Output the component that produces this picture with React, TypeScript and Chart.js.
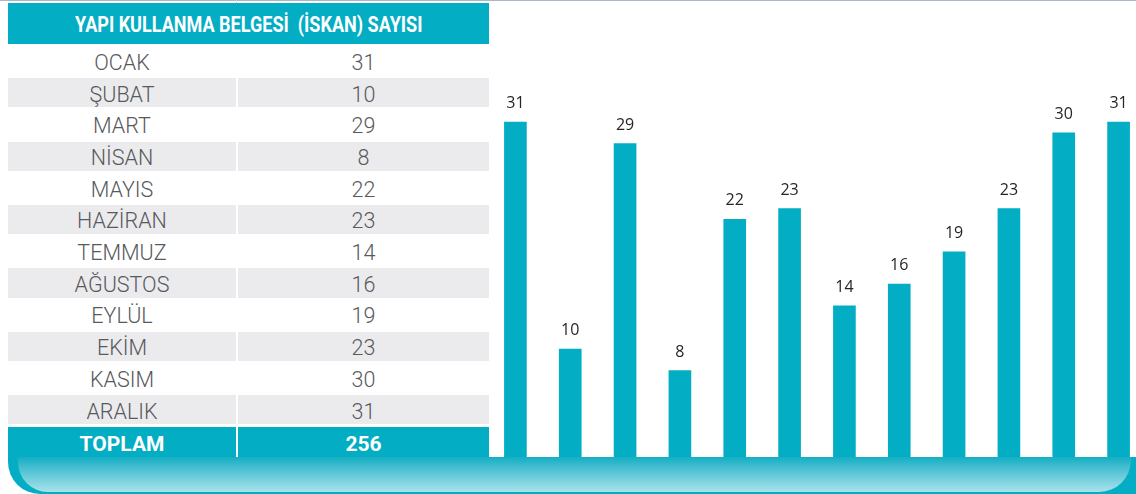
import React, { useEffect, useRef } from "react";
import { Chart, registerables } from "chart.js";

Chart.register(...registerables);

const months = ["OCAK", "ŞUBAT", "MART", "NİSAN", "MAYIS", "HAZİRAN", "TEMMUZ", "AĞUSTOS", "EYLÜL", "EKİM", "KASIM", "ARALIK"];
const counts = [31, 10, 29, 8, 22, 23, 14, 16, 19, 23, 30, 31];
const titleText = "YAPI KULLANMA BELGESİ  (İSKAN) SAYISI";
const totalLabel = "TOPLAM";
const totalValue = 256;
const yMax = 42.3;

const TEAL = "#03adc3";
const GRAY_ROW = "#ebebed";
const TEXT_GRAY = "#58595c";

const labelPlugin = {
  id: "barLabels",
  afterDatasetsDraw(chart: any) {
    const ctx = chart.ctx;
    const meta = chart.getDatasetMeta(0);
    ctx.save();
    ctx.font = "16px 'Open Sans'";
    ctx.fillStyle = "#262626";
    ctx.textAlign = "center";
    ctx.textBaseline = "alphabetic";
    meta.data.forEach((bar: any, i: number) => {
      ctx.fillText(String(chart.data.datasets[0].data[i]), bar.x, bar.y - 14);
    });
    ctx.restore();
  },
};

function BarChart() {
  const ref = useRef<HTMLCanvasElement>(null);
  useEffect(() => {
    if (!ref.current) return;
    const chart = new Chart(ref.current, {
      type: "bar",
      data: {
        labels: months,
        datasets: [
          {
            data: counts,
            backgroundColor: TEAL,
            borderWidth: 0,
            barThickness: 22,
          },
        ],
      },
      options: {
        responsive: false,
        animation: false,
        devicePixelRatio: 1,
        layout: { padding: 0 },
        plugins: { legend: { display: false }, tooltip: { enabled: false } },
        scales: {
          x: { display: false, offset: true, grid: { display: false } },
          y: { display: false, min: 0, max: yMax, grid: { display: false } },
        },
      },
      plugins: [labelPlugin],
    });
    return () => chart.destroy();
  }, []);
  return (
    <canvas
      ref={ref}
      width={658}
      height={457}
      style={{ position: "absolute", left: 488, top: 0, width: 658, height: 457 }}
    />
  );
}

export default function App() {
  const rowTop = 46.5;
  const rowH = 31.7;
  return (
    <div
      style={{
        position: "fixed",
        left: 0,
        top: 0,
        width: 1136,
        height: 494,
        overflow: "hidden",
        background: "#ffffff",
        fontFamily: "Roboto, sans-serif",
      }}
    >
      {/* top rule */}
      <div style={{ position: "absolute", left: 0, top: 0, width: 1136, height: 1, background: "#a9b7c8" }} />
      <div style={{ position: "absolute", left: 236, top: 0, width: 1, height: 3, background: "#d5dbe3" }} />

      {/* header */}
      <div
        style={{
          position: "absolute",
          left: 8,
          top: 3,
          width: 481,
          height: 41,
          background: TEAL,
          display: "flex",
          alignItems: "center",
          justifyContent: "center",
        }}
      >
        <span
          style={{
            display: "inline-block",
            color: "#ffffff",
            fontWeight: 700,
            fontSize: 22,
            whiteSpace: "pre",
            transform: "scaleX(0.82)",
            letterSpacing: 0,
            marginTop: 1,
          }}
        >
          {titleText}
        </span>
      </div>

      {/* rows */}
      {months.map((m, i) => {
        const top = rowTop + i * rowH;
        const bg = i % 2 === 1 ? GRAY_ROW : "#ffffff";
        const cellStyle: React.CSSProperties = {
          position: "absolute",
          top,
          height: rowH - 2.5,
          background: bg,
          color: TEXT_GRAY,
          fontSize: 21.5,
          fontWeight: 300,
          display: "flex",
          alignItems: "center",
          justifyContent: "center",
          lineHeight: 1,
          paddingTop: 3,
          boxSizing: "border-box",
        };
        return (
          <React.Fragment key={m}>
            <div style={{ ...cellStyle, left: 8, width: 228 }}>{m}</div>
            <div style={{ ...cellStyle, left: 238, width: 251 }}>{counts[i]}</div>
          </React.Fragment>
        );
      })}

      {/* total row */}
      <div
        style={{
          position: "absolute",
          left: 8,
          top: 427,
          width: 481,
          height: 30,
          background: TEAL,
        }}
      />
      <div style={{ position: "absolute", left: 236, top: 427, width: 2, height: 30, background: "#ffffff" }} />
      <div
        style={{
          position: "absolute",
          left: 8,
          top: 427,
          width: 228,
          height: 30,
          display: "flex",
          alignItems: "center",
          justifyContent: "center",
          color: "#ffffff",
          fontWeight: 700,
          fontSize: 21,
          lineHeight: 1,
          paddingTop: 5,
          boxSizing: "border-box",
        }}
      >
        {totalLabel}
      </div>
      <div
        style={{
          position: "absolute",
          left: 238,
          top: 427,
          width: 251,
          height: 30,
          display: "flex",
          alignItems: "center",
          justifyContent: "center",
          color: "#ffffff",
          fontWeight: 700,
          fontSize: 21,
          lineHeight: 1,
          paddingTop: 5,
          boxSizing: "border-box",
        }}
      >
        {totalValue}
      </div>

      <BarChart />

      {/* bottom band */}
      <div
        style={{
          position: "absolute",
          left: 8,
          top: 457,
          width: 1128,
          height: 37,
          background: TEAL,
          borderBottomLeftRadius: 32,
        }}
      >
        <div
          style={{
            position: "absolute",
            left: 10,
            top: 0,
            right: 5,
            bottom: 2,
            background: "linear-gradient(to bottom, #14aec4 0%, #5cc6d6 45%, #a9e2ea 100%)",
            borderBottomLeftRadius: 30,
            borderBottomRightRadius: 32,
          }}
        />
      </div>
    </div>
  );
}
